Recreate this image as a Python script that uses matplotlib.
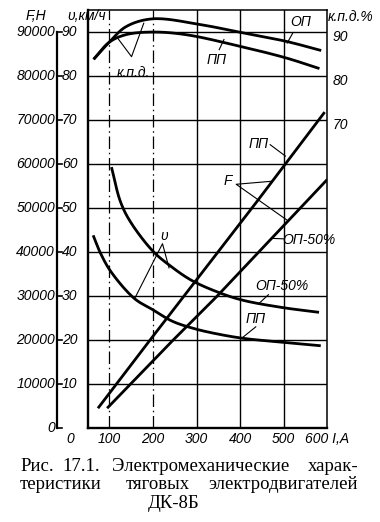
import numpy as np
import matplotlib
matplotlib.use('Agg')
import matplotlib.pyplot as plt
import matplotlib.transforms as mtransforms

# ---------------- data ----------------
# efficiency, %
I_eff_op = [64, 100, 138, 199, 314, 397, 505, 586]
eff_op = [83.7, 87.6, 91.1, 92.9, 91.5, 89.9, 87.8, 85.7]
I_eff_pp = [64, 100, 138, 200, 276, 398, 506, 582]
eff_pp = [83.7, 87.6, 89.3, 89.9, 89.3, 86.7, 84.0, 81.6]
# speed, km/h
I_v_op50 = [105, 125, 147, 200, 242, 288, 346, 404, 496, 581]
v_op50 = [59.2, 51.5, 47.0, 40.1, 36.6, 33.5, 30.9, 29.0, 27.3, 26.2]
I_v_pp = [63, 80, 104, 158, 198, 244, 291, 337, 406, 498, 585]
v_pp = [43.7, 39.6, 35.4, 29.3, 26.9, 24.2, 22.6, 21.5, 20.3, 19.4, 18.6]
# traction force, N
I_F_pp = [74, 195, 438, 594]
F_pp = [4400, 20100, 51300, 71700]
I_F_op50 = [95, 245, 346, 600]
F_op50 = [4400, 19750, 29750, 56400]

x_ticks = [100, 200, 300, 400, 500, 600]
x_labels = ['100', '200', '300', '400', '500', '600 I,A']
v_ticks = [0, 10, 20, 30, 40, 50, 60, 70, 80, 90]
F_labels = ['0', '10000', '20000', '30000', '40000', '50000', '60000', '70000', '80000', '90000']
eff_ticks = [70, 80, 90]

caption1 = ['Рис.', '17.1.', 'Электромеханические', 'харак-']
caption2 = ['теристики', 'тяговых', 'электродвигателей']
caption3 = 'ДК-8Б'

# ---------------- helpers ----------------
SX, SY = 1 / 2.2936, 4.4


def smooth(x, y, n=30):
    P = np.column_stack([np.asarray(x, float) * SX, np.asarray(y, float) * SY])
    P = np.vstack([2 * P[0] - P[1], P, 2 * P[-1] - P[-2]])
    out = []
    for i in range(1, len(P) - 2):
        p0, p1, p2, p3 = P[i - 1], P[i], P[i + 1], P[i + 2]
        t0 = 0.0
        t1 = t0 + np.linalg.norm(p1 - p0) ** 0.5
        t2 = t1 + np.linalg.norm(p2 - p1) ** 0.5
        t3 = t2 + np.linalg.norm(p3 - p2) ** 0.5
        t = np.linspace(t1, t2, n)[:, None]
        A1 = (t1 - t) / (t1 - t0) * p0 + (t - t0) / (t1 - t0) * p1
        A2 = (t2 - t) / (t2 - t1) * p1 + (t - t1) / (t2 - t1) * p2
        A3 = (t3 - t) / (t3 - t2) * p2 + (t - t2) / (t3 - t2) * p3
        B1 = (t2 - t) / (t2 - t0) * A1 + (t - t0) / (t2 - t0) * A2
        B2 = (t3 - t) / (t3 - t1) * A2 + (t - t1) / (t3 - t1) * A3
        C = (t2 - t) / (t2 - t1) * B1 + (t - t1) / (t2 - t1) * B2
        out.append(C if i == len(P) - 3 else C[:-1])
    C = np.vstack(out)
    return C[:, 0] / SX, C[:, 1] / SY


LBL = dict(family=['Liberation Sans', 'DejaVu Sans'], style='italic', fontsize=10, color='black')

W, H = 380, 522
fig = plt.figure(figsize=(W / 100, H / 100), dpi=100)
ax = fig.add_axes([87.5 / W, 94.4 / H, 239.8 / W, 418 / H])
ax.set_xlim(50, 600)
ax.set_ylim(0, 95)
ax.set_xticks([])
ax.set_yticks([])
for s in ['left', 'bottom']:
    ax.spines[s].set_linewidth(1.7)
for s in ['top', 'right']:
    ax.spines[s].set_linewidth(1.1)

# grid
for v in v_ticks[1:]:
    ax.axhline(v, color='black', lw=1.0, zorder=1)
for x in x_ticks[2:5]:
    ax.axvline(x, color='black', lw=1.0, zorder=1)
for x in x_ticks[:2]:
    ax.axvline(x, color='black', lw=0.9, ls=(0, (10, 3, 1.2, 3)), zorder=1)

# curves
kw = dict(color='black', lw=2.0, solid_capstyle='butt', zorder=3)
ax.plot(*smooth(I_eff_op, eff_op), **kw)
ax.plot(*smooth(I_eff_pp, eff_pp), **kw)
ax.plot(*smooth(I_v_op50, v_op50), **kw)
ax.plot(*smooth(I_v_pp, v_pp), **kw)
ax.plot(I_F_pp, np.array(F_pp) / 1000.0, **kw)
ax.plot(I_F_op50, np.array(F_op50) / 1000.0, **kw)

# x tick labels
for x, lab in zip(x_ticks, x_labels):
    ax.text(x, -2.6, lab, ha='center', va='center', clip_on=False, **LBL)
ax.text(10, -2.6, '0', ha='center', va='center', clip_on=False, **LBL)

# left: F axis spine with v labels
tr = mtransforms.blended_transform_factory(ax.transAxes, ax.transData)
xf = -0.129
ax.plot([xf, xf], [0, 90], transform=tr, clip_on=False, color='black', lw=1.6)
for v, fl in zip(v_ticks, F_labels):
    ax.plot([xf, xf + 0.022], [v, v], transform=tr, clip_on=False, color='black', lw=1.2)
    ax.text(xf - 0.006, v, fl, transform=tr, ha='right', va='center', **LBL)
    if v > 0:
        ax.text(-0.074, v, str(v), transform=tr, ha='center', va='center', **LBL)
ax.text(-0.215, 93.6, 'F,Н', transform=tr, ha='center', va='center', **LBL)
ax.text(-0.005, 93.6, 'υ,км/ч', transform=tr, ha='center', va='center', **LBL)

# right: efficiency labels
for e in eff_ticks:
    ax.text(1.022, e - 1.2, str(e), transform=tr, ha='left', va='center', **LBL)
ax.text(1.097, 93.4, 'к.п.д.%', transform=tr, ha='center', va='center', **LBL)

# annotations
lk = dict(color='black', lw=0.8, zorder=2)
ax.text(156, 80.7, 'к.п.д.', ha='center', va='center', **LBL)
ax.plot([120, 151, 179], [88.4, 84.3, 91.9], **lk)
ax.text(539, 92.2, 'ОП', ha='center', va='center', **LBL)
ax.plot([521, 508], [89.7, 87.4], **lk)
ax.text(346, 83.6, 'ПП', ha='center', va='center', **LBL)
ax.plot([352, 363], [85.9, 88.2], **lk)
ax.text(442, 64.5, 'ПП', ha='center', va='center', **LBL)
ax.plot([469, 504], [64.3, 61.7], **lk)
ax.text(372, 56.0, 'F', ha='center', va='center', **LBL)
ax.plot([474, 391, 507], [56.0, 55.3, 47.2], **lk)
ax.text(558, 42.7, 'ОП-50%', ha='center', va='center', **LBL)
ax.plot([474, 500], [43.0, 42.9], **lk)
ax.text(495, 32.1, 'ОП-50%', ha='center', va='center', **LBL)
ax.plot([465, 442], [30.2, 28.1], **lk)
ax.text(435, 24.7, 'ПП', ha='center', va='center', **LBL)
ax.plot([436, 406], [22.9, 20.5], **lk)
ax.text(226, 43.6, 'υ', ha='center', va='center', **LBL)
ax.plot([158, 222, 237], [29.3, 41.8, 36.3], **lk)

# caption
CAP = dict(family=['Liberation Serif', 'DejaVu Serif'], fontsize=13.5, color='black', va='baseline')


def put(x, y, s, ha='left'):
    fig.text(x / W, 1 - y / H, s, ha=ha, **CAP)


put(20, 471, caption1[0])
put(62, 471, caption1[1])
put(112, 471, caption1[2])
put(358, 471, caption1[3], ha='right')
put(20, 489, caption2[0])
put(126, 489, caption2[1])
put(358, 489, caption2[2], ha='right')
put(174, 508, caption3, ha='center')

fig.savefig('out.png', dpi=100, facecolor='white')
